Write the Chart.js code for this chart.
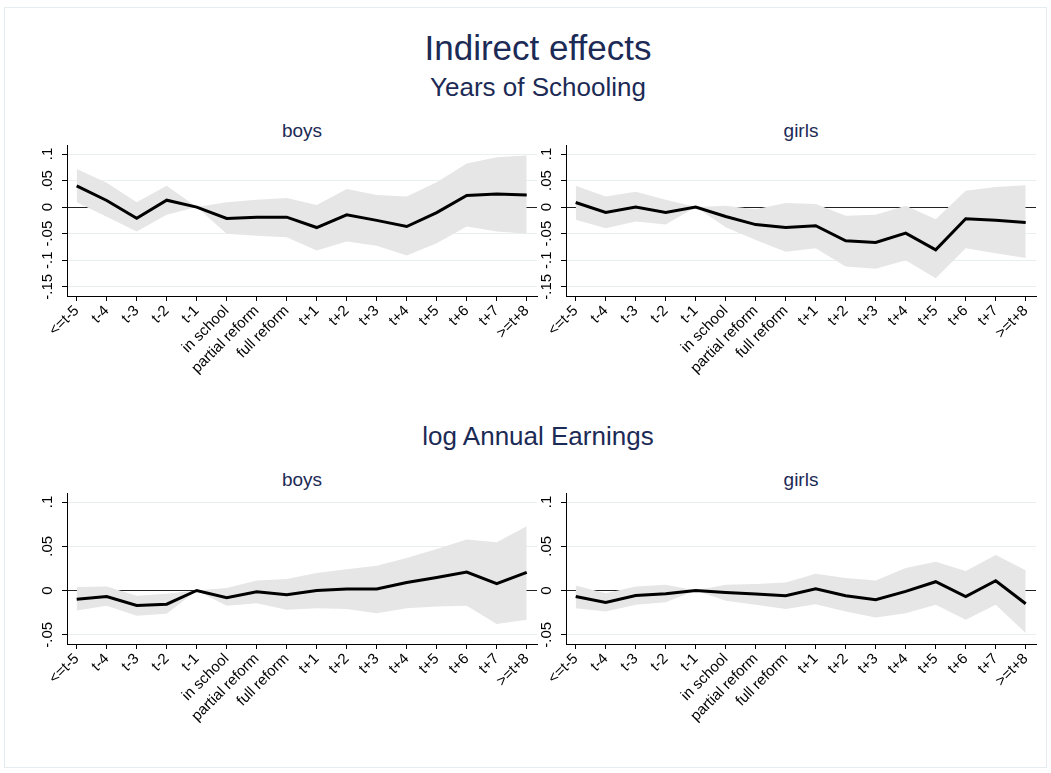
<!DOCTYPE html>
<html>
<head>
<meta charset="utf-8">
<script src="https://cdn.jsdelivr.net/npm/chart.js@4.4.1/dist/chart.umd.min.js"></script>
<style>
  body { margin: 0; background: #fff; }
  #page { position: relative; width: 1051px; height: 773px; overflow: hidden; background: #fff;
          font-family: "Liberation Sans", Arial, sans-serif; }
  .frame { position: absolute; left: 4px; top: 7px; width: 1041px; height: 759px; border: 1px solid #e4ecef; }
  .title { position: absolute; width: 500px; text-align: center; line-height: 1; color: #1c2a56; white-space: nowrap; }
  canvas { position: absolute; }
</style>
</head>
<body>
<div id="page">
  <div class="frame"></div>
  <div class="title" style="left:288px; top:30px; font-size:35px;">Indirect effects</div>
  <div class="title" style="left:288px; top:74px; font-size:26px;">Years of Schooling</div>
  <div class="title" style="left:52px; top:121px; font-size:19px;">boys</div>
  <div class="title" style="left:551px; top:121px; font-size:19px;">girls</div>
  <div class="title" style="left:288px; top:423px; font-size:26px;">log Annual Earnings</div>
  <div class="title" style="left:52px; top:470px; font-size:19px;">boys</div>
  <div class="title" style="left:551px; top:470px; font-size:19px;">girls</div>

  <canvas id="schoolBoys" width="550" height="260" style="left:0px; top:140px;"></canvas>
  <canvas id="schoolGirls" width="550" height="260" style="left:499px; top:140px;"></canvas>
  <canvas id="earnBoys" width="550" height="260" style="left:0px; top:488px;"></canvas>
  <canvas id="earnGirls" width="550" height="260" style="left:499px; top:488px;"></canvas>
</div>

<script>
// categorie (asse x)
const periods = ['<=t-5', 't-4', 't-3', 't-2', 't-1', 'in school', 'partial reform', 'full reform',
                 't+1', 't+2', 't+3', 't+4', 't+5', 't+6', 't+7', '>=t+8'];

// Years of Schooling - boys
const schoolBoysEst = [0.040, 0.0125, -0.021, 0.013, 0, -0.0215, -0.019, -0.019, -0.0385, -0.0145, -0.025, -0.0366, -0.0105, 0.022, 0.0245, 0.023];
const schoolBoysHi  = [0.072, 0.046, 0.009, 0.040, 0, 0.009, 0.014, 0.017, 0.004, 0.034, 0.023, 0.020, 0.047, 0.082, 0.094, 0.097];
const schoolBoysLo  = [0.009, -0.018, -0.046, -0.0145, 0, -0.050, -0.054, -0.057, -0.082, -0.065, -0.073, -0.091, -0.068, -0.0366, -0.046, -0.050];

// Years of Schooling - girls
const schoolGirlsEst = [0.0087, -0.010, 0.0, -0.010, 0, -0.0177, -0.033, -0.0385, -0.035, -0.0636, -0.0667, -0.049, -0.0806, -0.022, -0.025, -0.029];
const schoolGirlsHi  = [0.040, 0.020, 0.029, 0.014, 0, 0.0025, -0.004, 0.0075, 0.006, -0.0164, -0.0145, 0.0025, -0.0227, 0.031, 0.038, 0.041];
const schoolGirlsLo  = [-0.024, -0.040, -0.027, -0.033, 0, -0.038, -0.062, -0.084, -0.0775, -0.112, -0.116, -0.100, -0.134, -0.0775, -0.087, -0.096];

// log Annual Earnings - boys
const earnBoysEst = [-0.0098, -0.0068, -0.017, -0.0155, 0, -0.0081, -0.0015, -0.0049, 0.0, 0.0016, 0.0016, 0.0091, 0.0147, 0.0208, 0.0076, 0.0204];
const earnBoysHi  = [0.0038, 0.0045, -0.006, -0.0037, 0, 0.0027, 0.0112, 0.0129, 0.0197, 0.024, 0.028, 0.0367, 0.047, 0.0575, 0.0544, 0.0726];
const earnBoysLo  = [-0.0227, -0.0173, -0.0287, -0.0264, 0, -0.0173, -0.0143, -0.0219, -0.020, -0.021, -0.0256, -0.020, -0.018, -0.0173, -0.038, -0.0332];

// log Annual Earnings - girls
const earnGirlsEst = [-0.0068, -0.0136, -0.0057, -0.0037, 0, -0.0023, -0.0041, -0.006, 0.0019, -0.006, -0.0105, -0.001, 0.0099, -0.007, 0.011, -0.015];
const earnGirlsHi  = [0.0057, -0.003, 0.0045, 0.0065, 0, 0.0065, 0.0072, 0.0091, 0.0189, 0.014, 0.0113, 0.0254, 0.0325, 0.022, 0.040, 0.023];
const earnGirlsLo  = [-0.020, -0.0238, -0.0162, -0.0132, 0, -0.0117, -0.0162, -0.021, -0.0155, -0.0238, -0.0306, -0.0256, -0.016, -0.033, -0.016, -0.048];

// tick asse y
const schoolTicks = [-0.15, -0.1, -0.05, 0, 0.05, 0.1];
const earnTicks = [-0.05, 0, 0.05, 0.1];

const FONT = '"Liberation Sans", Arial, sans-serif';
const CI_COLOR = '#e6e6e6';
const GRID_COLOR = '#e8eff1';

// etichette stile Stata: .05, -.1
function stataLabel(v) {
  return String(Math.round(v * 1000) / 1000).replace('0.', '.');
}

function toPoints(arr) {
  return arr.map((v, i) => ({ x: i, y: v }));
}

function makePanel(id, est, hi, lo, yMin, yMax, yTicks) {
  return new Chart(document.getElementById(id), {
    type: 'line',
    data: {
      datasets: [
        { data: toPoints(est), borderColor: '#000', borderWidth: 3, pointRadius: 0, tension: 0, fill: false },
        { data: toPoints(hi), borderWidth: 0, pointRadius: 0, tension: 0, backgroundColor: CI_COLOR, fill: '+1' },
        { data: toPoints(lo), borderWidth: 0, pointRadius: 0, tension: 0, backgroundColor: CI_COLOR, fill: false }
      ]
    },
    options: {
      responsive: false,
      animation: false,
      layout: { padding: { left: 0, right: 13, top: 5, bottom: 0 } },
      plugins: { legend: { display: false }, tooltip: { enabled: false } },
      scales: {
        x: {
          type: 'linear',
          min: -0.323,
          max: 15.343,
          afterBuildTicks: s => { s.ticks = periods.map((_, i) => ({ value: i })); },
          afterFit: s => { s.height = 104; s.paddingLeft = 0; s.paddingRight = 0; },
          ticks: {
            autoSkip: false, minRotation: 45, maxRotation: 45, padding: 1,
            color: '#000', font: { family: FONT, size: 15 },
            callback: v => periods[v]
          },
          grid: { drawOnChartArea: false, drawTicks: true, tickLength: 5, tickColor: '#000' },
          border: { color: '#000', width: 1 }
        },
        y: {
          min: yMin,
          max: yMax,
          afterBuildTicks: s => { s.ticks = yTicks.map(v => ({ value: v })); },
          afterFit: s => { s.width = 67; s.paddingTop = 0; s.paddingBottom = 0; },
          ticks: {
            minRotation: 90, maxRotation: 90, crossAlign: 'center', padding: 1,
            color: '#000', font: { family: FONT, size: 15 },
            callback: v => stataLabel(v)
          },
          grid: {
            color: ctx => (ctx.tick && ctx.tick.value === 0) ? '#222' : GRID_COLOR,
            lineWidth: 1, drawTicks: true, tickLength: 5, tickColor: '#000'
          },
          border: { color: '#000', width: 1 }
        }
      }
    }
  });
}

makePanel('schoolBoys', schoolBoysEst, schoolBoysHi, schoolBoysLo, -0.1675, 0.117, schoolTicks);
makePanel('schoolGirls', schoolGirlsEst, schoolGirlsHi, schoolGirlsLo, -0.1675, 0.117, schoolTicks);
makePanel('earnBoys', earnBoysEst, earnBoysHi, earnBoysLo, -0.0605, 0.1102, earnTicks);
makePanel('earnGirls', earnGirlsEst, earnGirlsHi, earnGirlsLo, -0.0605, 0.1102, earnTicks);
</script>
</body>
</html>
